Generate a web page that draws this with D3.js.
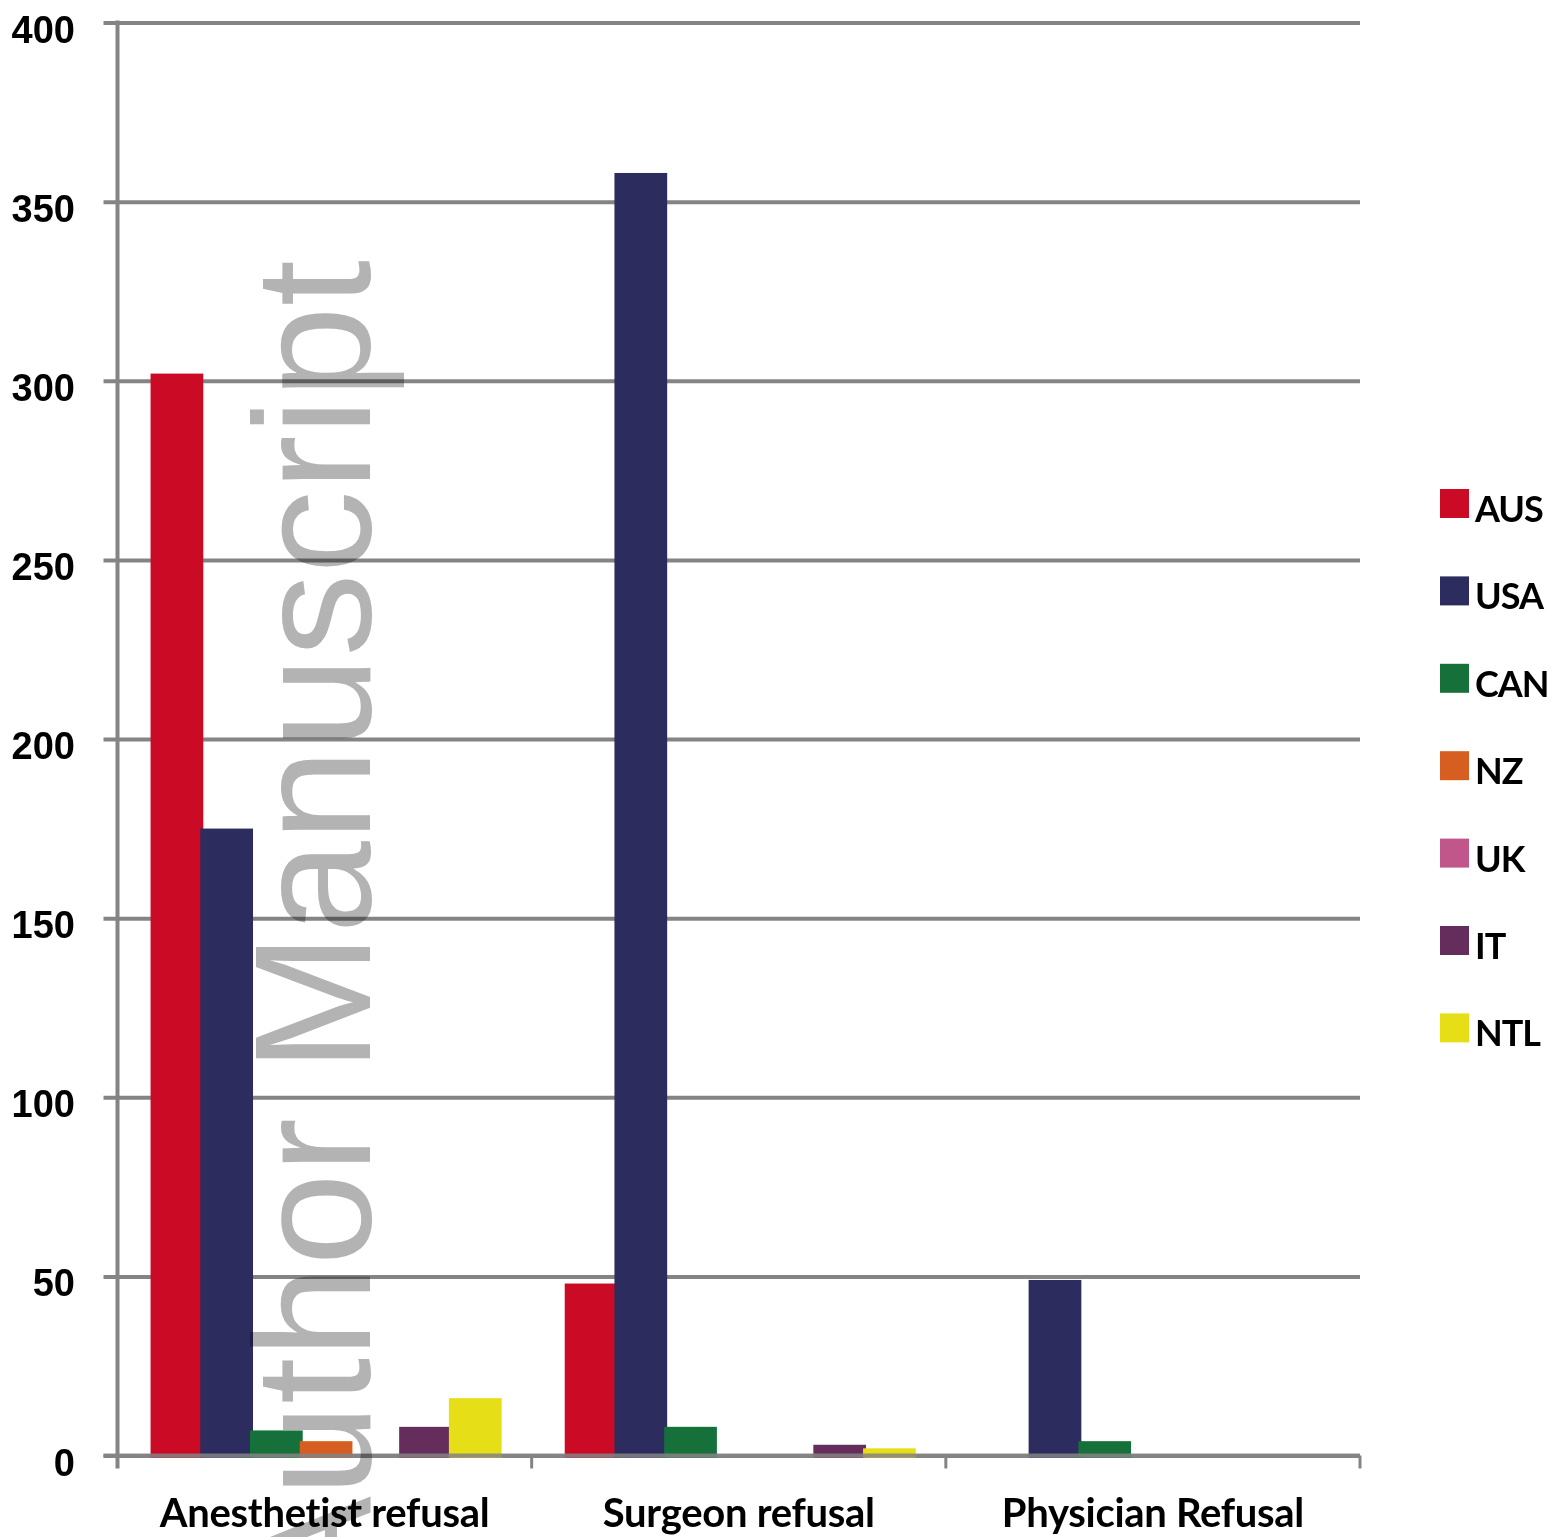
<!DOCTYPE html>
<html>
<head>
<meta charset="utf-8">
<script src="https://cdn.jsdelivr.net/npm/d3@7"></script>
<style>
  html, body { margin: 0; padding: 0; background: #fff; }
  svg { display: block; }
</style>
</head>
<body>
<div id="chart"></div>
<script>
// ---- Data ----
const categories = ["Anesthetist refusal", "Surgeon refusal", "Physician Refusal"];
const seriesNames = ["AUS", "USA", "CAN", "NZ", "UK", "IT", "NTL"];
const AUS = [302, 48, 0];
const USA = [175, 358, 49];
const CAN = [7, 8, 4];
const NZ  = [4, 0, 0];
const UK  = [0, 0, 0];
const IT  = [8, 3, 0];
const NTL = [16, 2, 0];
const yTicks = [0, 50, 100, 150, 200, 250, 300, 350, 400];
const seriesColors = ["#CB0A25", "#2C2C5E", "#15703A", "#D55E20", "#C0568A", "#642D5C", "#E6DE17"];
const watermarkText = "Author Manuscript";

const seriesValues = [AUS, USA, CAN, NZ, UK, IT, NTL];

// ---- Layout ----
const W = 1551, H = 1537;
const plot = { left: 117.5, right: 1360, top: 22.5, bottom: 1455.5 };

const svg = d3.select("#chart").append("svg")
  .attr("width", W).attr("height", H)
  .style("background", "#fff");

const x0 = d3.scaleBand().domain(categories).range([plot.left, plot.right]).padding(0);
const x1 = d3.scaleBand().domain(seriesNames).range([0, x0.bandwidth()])
  .paddingInner(0).paddingOuter(0.665);
const y = d3.scaleLinear().domain([0, 400]).range([plot.bottom, plot.top]);
const color = d3.scaleOrdinal().domain(seriesNames).range(seriesColors);

const gridColor = "#848484";

// Gridlines (with left tick stubs)
const yAxis = d3.axisLeft(y).tickValues(yTicks).tickSize(-(plot.right - plot.left)).tickSizeOuter(0).tickFormat("");
const gGrid = svg.append("g").attr("transform", `translate(${plot.left},0)`).call(yAxis);
gGrid.select(".domain").remove();
gGrid.selectAll(".tick line")
  .attr("x1", -14)
  .attr("stroke", gridColor).attr("stroke-width", 4);

// Y tick labels
svg.append("g").selectAll("text").data(yTicks).join("text")
  .attr("x", 75)
  .attr("y", d => y(d) + 20)
  .attr("text-anchor", "end")
  .attr("font-family", "'Liberation Sans', Arial, sans-serif")
  .attr("font-weight", "bold")
  .attr("font-size", 38)
  .attr("fill", "#000")
  .text(d => d);

// Bars
const rows = [];
categories.forEach((c, ci) => {
  seriesNames.forEach((s, si) => {
    rows.push({ cat: c, series: s, value: seriesValues[si][ci] });
  });
});
svg.append("g").selectAll("rect").data(rows.filter(d => d.value > 0)).join("rect")
  .attr("x", d => x0(d.cat) + x1(d.series))
  .attr("y", d => y(d.value))
  .attr("width", x1.bandwidth() + 3)
  .attr("height", d => plot.bottom + 2 - y(d.value))
  .attr("fill", d => color(d.series));

// Left axis line
svg.append("line")
  .attr("x1", plot.left).attr("x2", plot.left)
  .attr("y1", plot.top - 2).attr("y2", plot.bottom + 13)
  .attr("stroke", gridColor).attr("stroke-width", 4);

// Bottom axis (drawn over bars)
const xAxis = d3.axisBottom(x0).tickSize(0).tickFormat("");
const gX = svg.append("g").attr("transform", `translate(0,${plot.bottom})`).call(xAxis);
gX.select(".domain").remove();
svg.append("line")
  .attr("x1", plot.left - 14).attr("x2", plot.right)
  .attr("y1", plot.bottom).attr("y2", plot.bottom)
  .attr("stroke", gridColor).attr("stroke-width", 4).attr("stroke-opacity", 0.85);
const boundaries = categories.map(c => x0(c) + x0.bandwidth());
svg.append("g").selectAll("line").data(boundaries).join("line")
  .attr("x1", d => d).attr("x2", d => d)
  .attr("y1", plot.bottom).attr("y2", plot.bottom + 13)
  .attr("stroke", gridColor).attr("stroke-width", 3);

// Category labels
svg.append("g").selectAll("text").data(categories).join("text")
  .attr("x", d => x0(d) + x0.bandwidth() / 2)
  .attr("y", 1527)
  .attr("text-anchor", "middle")
  .attr("font-family", "Lato, 'Open Sans', sans-serif")
  .attr("font-weight", "bold")
  .attr("font-size", 40)
  .attr("letter-spacing", -0.3)
  .attr("fill", "#000")
  .text(d => d);

// Legend
const legend = svg.append("g").selectAll("g").data(seriesNames).join("g")
  .attr("transform", (d, i) => `translate(1440,${489 + i * 87.4})`);
legend.append("rect")
  .attr("width", 29).attr("height", 29)
  .attr("fill", d => color(d));
legend.append("text")
  .attr("x", 35).attr("y", 33)
  .attr("font-family", "Lato, 'Open Sans', sans-serif")
  .attr("font-weight", "bold")
  .attr("font-size", 36)
  .attr("letter-spacing", -1)
  .attr("fill", "#000")
  .text(d => d);

// Watermark
svg.append("text")
  .attr("transform", "translate(370,260) rotate(-90)")
  .attr("text-anchor", "end")
  .attr("font-family", "'Liberation Sans', Arial, sans-serif")
  .attr("font-size", 166)
  .attr("fill", "#b3b3b3")
  .style("mix-blend-mode", "multiply")
  .text(watermarkText);
</script>
</body>
</html>
